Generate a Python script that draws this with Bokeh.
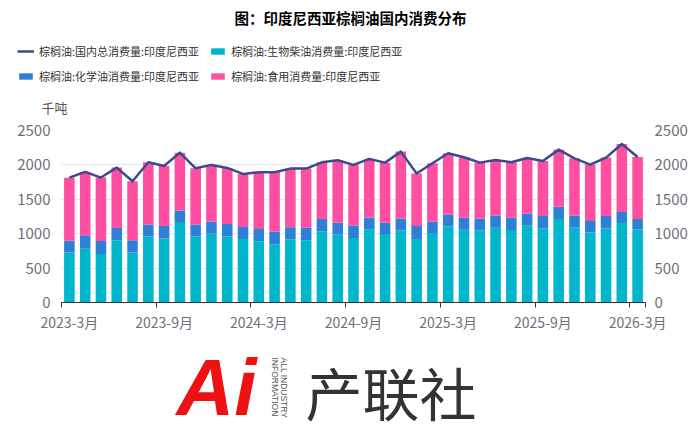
import math
from bokeh.plotting import figure
from bokeh.layouts import column
from bokeh.models import (ColumnDataSource, FixedTicker, LinearAxis, Legend,
                          LegendItem, Range1d)
from bokeh.core.properties import value
from bokeh.embed import file_html
from bokeh.resources import INLINE

# ---------------- data ----------------
months = ["2023-3月", "2023-4月", "2023-5月", "2023-6月", "2023-7月", "2023-8月",
          "2023-9月", "2023-10月", "2023-11月", "2023-12月", "2024-1月", "2024-2月",
          "2024-3月", "2024-4月", "2024-5月", "2024-6月", "2024-7月", "2024-8月",
          "2024-9月", "2024-10月", "2024-11月", "2024-12月", "2025-1月", "2025-2月",
          "2025-3月", "2025-4月", "2025-5月", "2025-6月", "2025-7月", "2025-8月",
          "2025-9月", "2025-10月", "2025-11月", "2025-12月", "2026-1月", "2026-2月",
          "2026-3月"]
biodiesel = [725, 782, 705, 903, 725, 961, 932, 1169, 961, 1000, 961, 922,
             889, 845, 918, 903, 1034, 985, 937, 1063, 995, 1048, 922, 1009,
             1106, 1058, 1048, 1085, 1053, 1116, 1077, 1212, 1092, 1019, 1077, 1154,
             1063]
chemical = [173, 194, 189, 179, 178, 174, 179, 169, 174, 178, 179, 174,
            178, 184, 174, 184, 178, 174, 184, 173, 164, 174, 189, 165,
            169, 174, 174, 180, 179, 174, 179, 179, 173, 164, 179, 160,
            149]
food = [917, 922, 922, 879, 860, 903, 874, 840, 816, 822, 816, 773,
        826, 864, 854, 859, 826, 908, 879, 851, 874, 971, 763, 850,
        894, 879, 811, 807, 806, 811, 802, 831, 831, 821, 850, 990,
        904]
total = [1815, 1898, 1816, 1961, 1763, 2038, 1985, 2178, 1951, 2000, 1956, 1869,
         1893, 1893, 1946, 1946, 2038, 2067, 2000, 2087, 2033, 2193, 1874, 2024,
         2169, 2111, 2033, 2072, 2038, 2101, 2058, 2222, 2096, 2004, 2106, 2304,
         2116]
y_ticks = [0, 500, 1000, 1500, 2000, 2500]
label_step = 6

series_names = ["棕榈油:国内总消费量:印度尼西亚", "棕榈油:生物柴油消费量:印度尼西亚",
                "棕榈油:化学油消费量:印度尼西亚", "棕榈油:食用消费量:印度尼西亚"]
title_text = "图：印度尼西亚棕榈油国内消费分布"
unit_text = "千吨"
logo_name = "产联社"
logo_mark = "Ai"
logo_sub = ["ALL INDUSTRY", "INFORMATION"]

# ---------------- styles ----------------
C_LINE = "#3D4A8A"
C_TEAL = "#00B6CB"
C_BLUE = "#2E80D6"
C_PINK = "#FF4FA3"
AX_TXT = "#6E7079"
FONT = "Noto Sans CJK SC"
W = 700
H_HEAD, H_CHART, H_LOGO = 118, 216, 100


def no_align(f):
    try:
        f.frame_align = False
    except Exception:
        pass


def blank_fig(h):
    f = figure(width=W, height=h, output_backend="svg", toolbar_location=None,
               x_range=Range1d(0, W), y_range=Range1d(0, h),
               x_axis_type=None, y_axis_type=None,
               min_border_left=0, min_border_right=0, min_border_top=0,
               min_border_bottom=0)
    f.outline_line_color = None
    f.grid.visible = False
    no_align(f)
    return f


# ---------------- chart ----------------
n = len(months)
xs = list(range(n))
src = ColumnDataSource(dict(x=xs, month=months, biodiesel=biodiesel,
                            chemical=chemical, food=food, total=total))

p = figure(width=W, height=H_CHART, output_backend="svg", toolbar_location=None,
           x_range=Range1d(-0.5, n - 0.5), y_range=Range1d(0, 2500),
           min_border_left=61, min_border_right=55, min_border_top=12,
           min_border_bottom=32)
p.outline_line_color = None
p.xgrid.visible = False
p.ygrid.ticker = FixedTicker(ticks=y_ticks)
p.ygrid.grid_line_color = "#E0E6F1"
no_align(p)

bars = p.vbar_stack(["biodiesel", "chemical", "food"], x="x", width=0.67,
                    fill_color=[C_TEAL, C_BLUE, C_PINK], line_color=None,
                    source=src)
line_r = p.line("x", "total", source=src, line_color=C_LINE, line_width=2.5,
                line_join="round")

major = list(range(0, n, label_step))
minor = [m - 0.5 for m in major] + [n - 0.5]
xa = p.xaxis[0]
xa.ticker = FixedTicker(ticks=major, minor_ticks=minor)
xa.major_label_overrides = {i: months[i] for i in major}
xa.axis_line_color = "#333333"
xa.major_tick_line_color = None
xa.major_tick_in = 0
xa.major_tick_out = 0
xa.minor_tick_line_color = "#333333"
xa.minor_tick_in = 0
xa.minor_tick_out = 5
xa.major_label_standoff = 4
xa.major_label_text_font = FONT
xa.major_label_text_font_size = "14px"
xa.major_label_text_color = AX_TXT


def style_y(ax, standoff):
    ax.ticker = FixedTicker(ticks=y_ticks)
    ax.axis_line_color = None
    ax.major_tick_line_color = None
    ax.minor_tick_line_color = None
    ax.major_tick_in = 0
    ax.major_tick_out = 0
    ax.major_label_standoff = standoff
    ax.major_label_text_font = FONT
    ax.major_label_text_font_size = "15px"
    ax.major_label_text_color = AX_TXT


style_y(p.yaxis[0], 11)
ra = LinearAxis()
style_y(ra, 9)
p.add_layout(ra, "right")

# ---------------- header: title, legend, unit ----------------
h = blank_fig(H_HEAD)
h.text(x=[350], y=[101], text=[title_text], text_font=value(FONT),
       text_font_size="14.5px", text_font_style="bold", text_color="#000000",
       text_align="center", text_baseline="middle")
h.text(x=[54], y=[11], text=[unit_text], text_font=value(FONT),
       text_font_size="13px", text_color="#555555",
       text_align="center", text_baseline="middle")

# hidden legend proxies with the same series and styles as the chart
lg_line = h.line("x", "total", source=src, line_color=C_LINE, line_width=2.5,
                 visible=False)
lg_bars = [h.vbar(x="x", top="total", width=0.67, source=src,
                  fill_color=c, line_color=None, visible=False)
           for c in (C_TEAL, C_BLUE, C_PINK)]


def make_legend(items, loc):
    return Legend(items=items, orientation="horizontal", location=loc,
                  padding=0, margin=0, spacing=10, label_standoff=5,
                  glyph_width=17, glyph_height=8, label_height=14,
                  label_text_font=FONT, label_text_font_size="11px",
                  label_text_color="#333333", border_line_color=None,
                  background_fill_alpha=0, inactive_fill_alpha=0,
                  click_policy="none")


h.add_layout(make_legend(
    [LegendItem(label=series_names[0], renderers=[lg_line]),
     LegendItem(label=series_names[1], renderers=[lg_bars[0]])], (17, 59)))
h.add_layout(make_legend(
    [LegendItem(label=series_names[2], renderers=[lg_bars[1]]),
     LegendItem(label=series_names[3], renderers=[lg_bars[2]])], (17, 34)))

# ---------------- logo ----------------
g = blank_fig(H_LOGO)
g.text(x=[216], y=[47], text=[logo_mark], text_font=value("Liberation Sans"),
       text_font_size="80px", text_font_style="bold italic", text_color="#EE1111",
       text_align="center", text_baseline="middle")
g.text(x=[283, 274], y=[77, 77], text=logo_sub, text_font=value("Liberation Sans"),
       text_font_size="8.5px", text_color="#555555", text_align="left",
       text_baseline="middle", angle=-math.pi / 2)
g.text(x=[305], y=[44], text=[logo_name], text_font=value(FONT),
       text_font_size="57px", text_color="#333333", text_align="left",
       text_baseline="middle")

layout = column(h, p, g, spacing=0)
open("out.html", "w").write(file_html(layout, INLINE))
